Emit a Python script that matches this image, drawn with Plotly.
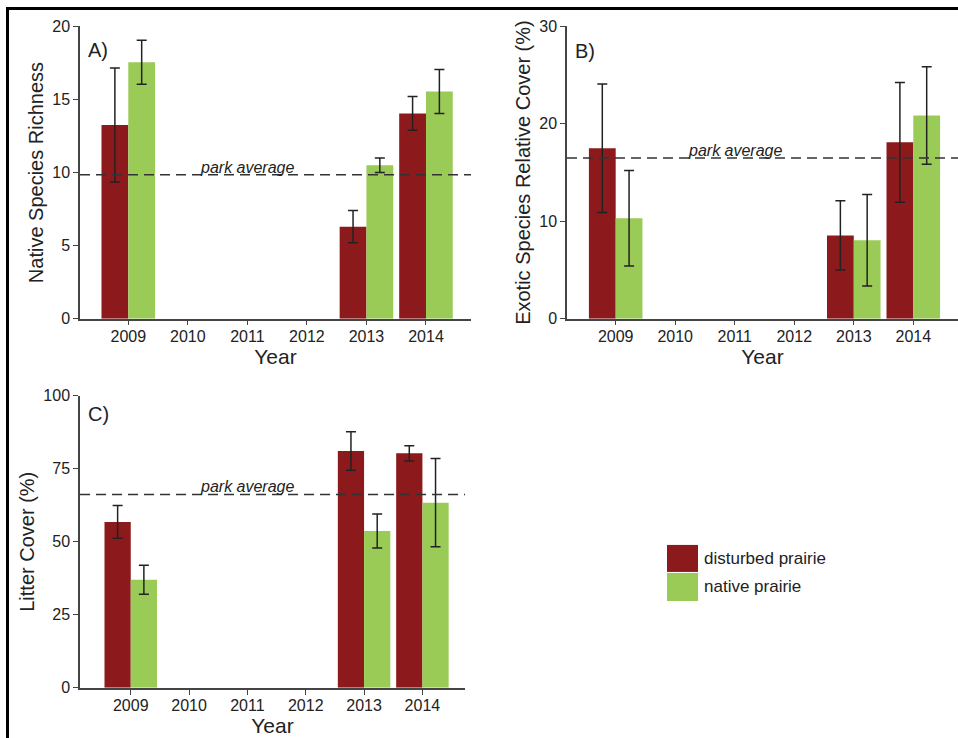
import plotly.graph_objects as go

# ---------------- data ----------------
years = [2009, 2013, 2014]
tick_years = [2009, 2010, 2011, 2012, 2013, 2014]
series_names = ["disturbed prairie", "native prairie"]

rich_disturbed = [13.25, 6.3, 14.05]
rich_disturbed_err = [3.9, 1.1, 1.15]
rich_native = [17.55, 10.5, 15.55]
rich_native_err = [1.5, 0.5, 1.5]

exotic_disturbed = [17.5, 8.55, 18.1]
exotic_disturbed_err = [6.6, 3.55, 6.15]
exotic_native = [10.3, 8.05, 20.85]
exotic_native_err = [4.9, 4.7, 5.0]

litter_disturbed = [56.8, 81.1, 80.3]
litter_disturbed_err = [5.6, 6.6, 2.6]
litter_native = [37.0, 53.7, 63.4]
litter_native_err = [5.0, 5.8, 15.1]

park_average = [9.85, 16.5, 66.2]
panel_labels = ["A)", "B)", "C)"]
y_titles = ["Native Species Richness", "Exotic Species Relative Cover (%)", "Litter Cover (%)"]
y_ticks = [[0, 5, 10, 15, 20], [0, 10, 20, 30], [0, 25, 50, 75, 100]]
y_max = [20, 30, 100]

# ---------------- style ----------------
RED = "#8C1A1C"
GREEN = "#9BCB57"
TXT = "#222222"
AX = "#444444"
FONT = "Liberation Sans, Arial, sans-serif"
W, H = 958, 738

def px_x(p):
    return p / W

def px_y(p):
    # vertical pixel position on the captured page -> paper fraction
    q = (p - 7.6) / 0.976
    return 1 - q / H

panels = [
    dict(dom_x=[px_x(80), px_x(471)], dom_y=[px_y(318), px_y(26)], xr=[2008.189, 2014.756],
         d=rich_disturbed, de=rich_disturbed_err, n=rich_native, ne=rich_native_err, ly=0.918),
    dict(dom_x=[px_x(567), 1.0], dom_y=[px_y(318), px_y(26)], xr=[2008.182, 2014.751],
         d=exotic_disturbed, de=exotic_disturbed_err, n=exotic_native, ne=exotic_native_err, ly=0.915),
    dict(dom_x=[px_x(80), px_x(465)], dom_y=[px_y(686.7), px_y(395)], xr=[2008.13, 2014.73],
         d=litter_disturbed, de=litter_disturbed_err, n=litter_native, ne=litter_native_err, ly=0.938),
]

fig = go.Figure()
layout = dict(
    width=W, height=H,
    margin=dict(l=0, r=0, t=0, b=0),
    paper_bgcolor="white", plot_bgcolor="white",
    barmode="group", bargap=0.1, bargroupgap=0.0,
    showlegend=False,
    font=dict(family=FONT, color=TXT),
)
shapes = []
annotations = []

for i, p in enumerate(panels):
    k = "" if i == 0 else str(i + 1)
    xa, ya = "x" + k, "y" + k
    for vals, errs, col, name in [(p["d"], p["de"], RED, series_names[0]),
                                   (p["n"], p["ne"], GREEN, series_names[1])]:
        fig.add_trace(go.Bar(
            x=years, y=vals, name=name, marker=dict(color=col, line=dict(width=0)),
            error_y=dict(type="data", array=errs, visible=True, color="#222222",
                         thickness=1.5, width=5),
            xaxis=xa, yaxis=ya, showlegend=False,
        ))
    layout["xaxis" + k] = dict(
        domain=p["dom_x"], range=p["xr"], anchor=ya,
        tickmode="array", tickvals=tick_years, ticktext=[str(t) for t in tick_years],
        ticks="outside", ticklen=5, tickcolor=AX, tickwidth=1.3,
        showline=True, linecolor=AX, linewidth=1.5, showgrid=False, zeroline=False,
        tickfont=dict(size=16, color=TXT, family=FONT), ticklabelstandoff=-3,
        title=dict(text="Year", font=dict(size=21, color=TXT, family=FONT), standoff=4),
    )
    layout["yaxis" + k] = dict(
        domain=p["dom_y"], range=[0, y_max[i]], anchor=xa,
        tickmode="array", tickvals=y_ticks[i],
        ticks="outside", ticklen=5, tickcolor=AX, tickwidth=1.3,
        showline=True, linecolor=AX, linewidth=1.5, showgrid=False, zeroline=False,
        tickfont=dict(size=16, color=TXT, family=FONT),
        title=dict(text=y_titles[i], font=dict(size=20, color=TXT, family=FONT), standoff=3),
    )
    # park average dashed line
    shapes.append(dict(type="line", xref=xa + " domain", yref=ya, x0=0, x1=1,
                       y0=park_average[i], y1=park_average[i],
                       line=dict(color="#333333", width=1.5, dash="10px,6px")))
    annotations.append(dict(x=2011, y=park_average[i], xref=xa, yref=ya,
                            text="<i>park average</i>", showarrow=False,
                            yanchor="bottom", yshift=-3,
                            font=dict(size=16, color=TXT, family=FONT)))
    annotations.append(dict(x=0.015, y=p["ly"], xref=xa + " domain", yref=ya + " domain",
                            text=panel_labels[i], showarrow=False,
                            xanchor="left", yanchor="middle",
                            font=dict(size=20, color=TXT, family=FONT)))

# custom legend (large squares)
legend_rows = [(RED, series_names[0], 544, 571), (GREEN, series_names[1], 572, 600)]
for col, name, top, bot in legend_rows:
    shapes.append(dict(type="rect", xref="paper", yref="paper",
                       x0=px_x(667), x1=px_x(698), y0=px_y(bot), y1=px_y(top),
                       fillcolor=col, line=dict(width=0)))
    annotations.append(dict(x=px_x(702), y=px_y((top + bot) / 2), xref="paper", yref="paper",
                            text=name, showarrow=False, xanchor="left", yanchor="middle",
                            font=dict(size=17, color=TXT, family=FONT)))

# outer frame (left and top edges)
shapes.append(dict(type="line", xref="paper", yref="paper", x0=px_x(7.5), x1=px_x(7.5),
                   y0=-0.05, y1=px_y(8), line=dict(color="black", width=3)))
shapes.append(dict(type="line", xref="paper", yref="paper", x0=px_x(6), x1=1,
                   y0=px_y(8), y1=px_y(8), line=dict(color="black", width=3)))

layout["shapes"] = shapes
layout["annotations"] = annotations
fig.update_layout(**layout)
fig.write_html(
    "out.html",
    config={"displayModeBar": False},
    post_script=(
        "document.documentElement.style.margin='0';document.documentElement.style.overflow='hidden';"
        "document.body.style.margin='0';document.body.style.padding='0';document.body.style.overflow='hidden';"
        "var d=document.getElementById('{plot_id}');d.style.position='fixed';"
        "d.style.top='0px';d.style.left='0px';"
    ),
)
